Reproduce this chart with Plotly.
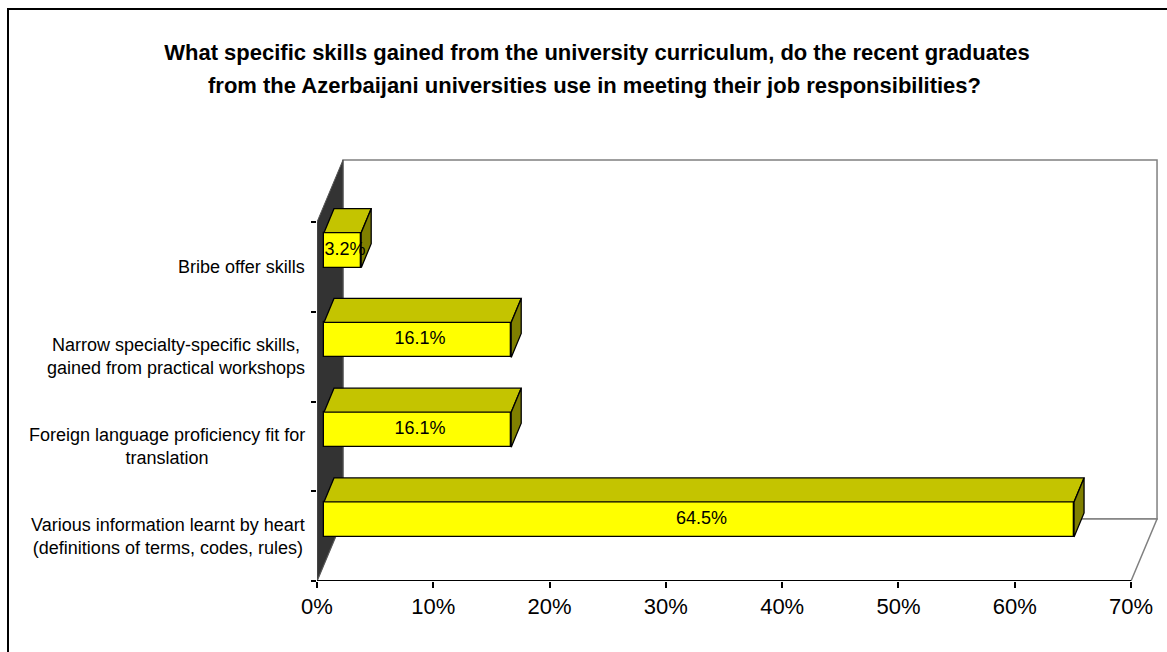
import plotly.graph_objects as go

# ---------------- data ----------------
categories = [
    "Various information learnt by heart<br>(definitions of terms, codes, rules)",
    "Foreign language proficiency fit for<br>translation",
    "Narrow specialty-specific skills,<br>gained from practical workshops",
    "Bribe offer skills",
]
values = [64.5, 16.1, 16.1, 3.2]
x_tickvals = [0, 10, 20, 30, 40, 50, 60, 70]
x_ticktext = ["0%", "10%", "20%", "30%", "40%", "50%", "60%", "70%"]
title_line1 = "What specific skills gained from the university curriculum, do the recent graduates"
title_line2 = "from the Azerbaijani universities use in meeting their job responsibilities?"

# ---------------- geometry (styling) ----------------
W, H = 1167, 652
ML, MB = 317, 71
PX_PER_X = 11.629          # pixels per percent
PX_PER_Y = 89.75           # pixels per category
XMAX_AXIS = 70
WALL_DX, WALL_DY = 2.236, 0.691     # depth of the 3-D box (data units)
BAR_OFF_X, BAR_OFF_Y = 0.60, 0.186  # bar front-face offset from front plane
BAR_DX, BAR_DY = 0.86, 0.267        # bar depth
BAR_W = 0.39

FONT = "Liberation Sans, Arial, sans-serif"
YELLOW, TOP_C, SIDE_C = "#FFFF00", "#C4C400", "#808000"

PLOT_H = H - MB
x_range = [0, (W - ML) / PX_PER_X]
y_range = [0, PLOT_H / PX_PER_Y]
n = len(categories)

fig = go.Figure()

# front faces of the bars
ycent = [i + 0.5 + BAR_OFF_Y for i in range(n)]
fig.add_trace(go.Bar(
    orientation="h", y=ycent, x=values, base=BAR_OFF_X, width=BAR_W,
    marker=dict(color=YELLOW, line=dict(color="black", width=1.3)),
    hoverinfo="skip", showlegend=False,
))

# top and side faces
for yc, v in zip(ycent, values):
    yt, yb = yc + BAR_W / 2, yc - BAR_W / 2
    x0, x1 = BAR_OFF_X, BAR_OFF_X + v
    fig.add_trace(go.Scatter(
        x=[x0, x1, x1 + BAR_DX, x0 + BAR_DX, x0],
        y=[yt, yt, yt + BAR_DY, yt + BAR_DY, yt],
        mode="lines", fill="toself", fillcolor=TOP_C,
        line=dict(color="black", width=1.3), hoverinfo="skip", showlegend=False))
    fig.add_trace(go.Scatter(
        x=[x1, x1 + BAR_DX, x1 + BAR_DX, x1, x1],
        y=[yb, yb + BAR_DY, yt + BAR_DY, yt, yb],
        mode="lines", fill="toself", fillcolor=SIDE_C,
        line=dict(color="black", width=1.3), hoverinfo="skip", showlegend=False))

# data labels
fig.add_trace(go.Scatter(
    x=[BAR_OFF_X + v / 2 + BAR_DX / 4 for v in values], y=ycent,
    text=[f"{v}%" for v in values], mode="text",
    textfont=dict(family=FONT, size=18, color="black"),
    hoverinfo="skip", showlegend=False, cliponaxis=False))

# 3-D box walls (drawn below traces)
shapes = []
shapes.append(dict(
    type="path", xref="x", yref="y", layer="below",
    path=(f"M {WALL_DX},{WALL_DY} L {XMAX_AXIS + WALL_DX},{WALL_DY} "
          f"L {XMAX_AXIS + WALL_DX},{n + WALL_DY} L {WALL_DX},{n + WALL_DY} Z"),
    fillcolor="white", line=dict(color="#808080", width=1.5)))
shapes.append(dict(
    type="path", xref="x", yref="y", layer="below",
    path=(f"M 0,0 L {XMAX_AXIS},0 L {XMAX_AXIS + WALL_DX},{WALL_DY} "
          f"L {WALL_DX},{WALL_DY} Z"),
    fillcolor="white", line=dict(color="#808080", width=1.5)))
shapes.append(dict(
    type="path", xref="x", yref="y", layer="below",
    path=(f"M 0,0 L 0,{n} L {WALL_DX},{n + WALL_DY} L {WALL_DX},{WALL_DY} Z"),
    fillcolor="#333333", line=dict(color="#555555", width=1)))
shapes.append(dict(type="line", xref="x", yref="y", layer="below",
                   x0=0, x1=XMAX_AXIS, y0=0, y1=0,
                   line=dict(color="black", width=2.2)))
shapes.append(dict(type="rect", xref="paper", yref="paper",
                   x0=(8 - ML) / (W - ML), x1=1.1,
                   y0=-0.3, y1=(PLOT_H - 9) / PLOT_H,
                   line=dict(color="black", width=2), fillcolor="rgba(0,0,0,0)"))

# category labels (centred multi-line text)
annotations = []
for i, c in enumerate(categories):
    annotations.append(dict(
        text=c, xref="paper", x=0, xshift=-10, xanchor="right",
        yref="y", y=i + 0.5, yanchor="middle", align="center",
        showarrow=False, font=dict(family=FONT, size=18, color="black")))

# second title line (Excel uses wider line spacing than Plotly's default)
annotations.append(dict(
    text=f"<b>{title_line2}</b>", xref="paper", x=(594 - ML) / (W - ML),
    xanchor="center", yref="paper", y=(PLOT_H - 86) / PLOT_H, yanchor="middle",
    showarrow=False, font=dict(family=FONT, size=22, color="black")))

fig.update_layout(
    width=W, height=H,
    margin=dict(l=ML, r=0, t=0, b=MB, pad=0),
    paper_bgcolor="white", plot_bgcolor="white",
    title=dict(text=title_line1, x=597 / W, xanchor="center", xref="container",
               y=1 - 52 / H, yanchor="middle", yref="container",
               font=dict(family=FONT, size=22, color="black", weight="bold")),
    xaxis=dict(range=x_range, tickvals=x_tickvals, ticktext=x_ticktext,
               ticks="outside", ticklen=6, tickwidth=1.5, tickcolor="black",
               showgrid=False, zeroline=False, showline=False,
               tickfont=dict(family=FONT, size=22, color="black"), fixedrange=True),
    yaxis=dict(range=y_range, tickvals=list(range(n + 1)), ticks="outside",
               ticklen=5, tickwidth=1.5, tickcolor="black", showticklabels=False,
               showgrid=False, zeroline=False, showline=False, fixedrange=True),
    shapes=shapes, annotations=annotations,
    showlegend=False, bargap=0,
)

fig.write_html("out.html")
